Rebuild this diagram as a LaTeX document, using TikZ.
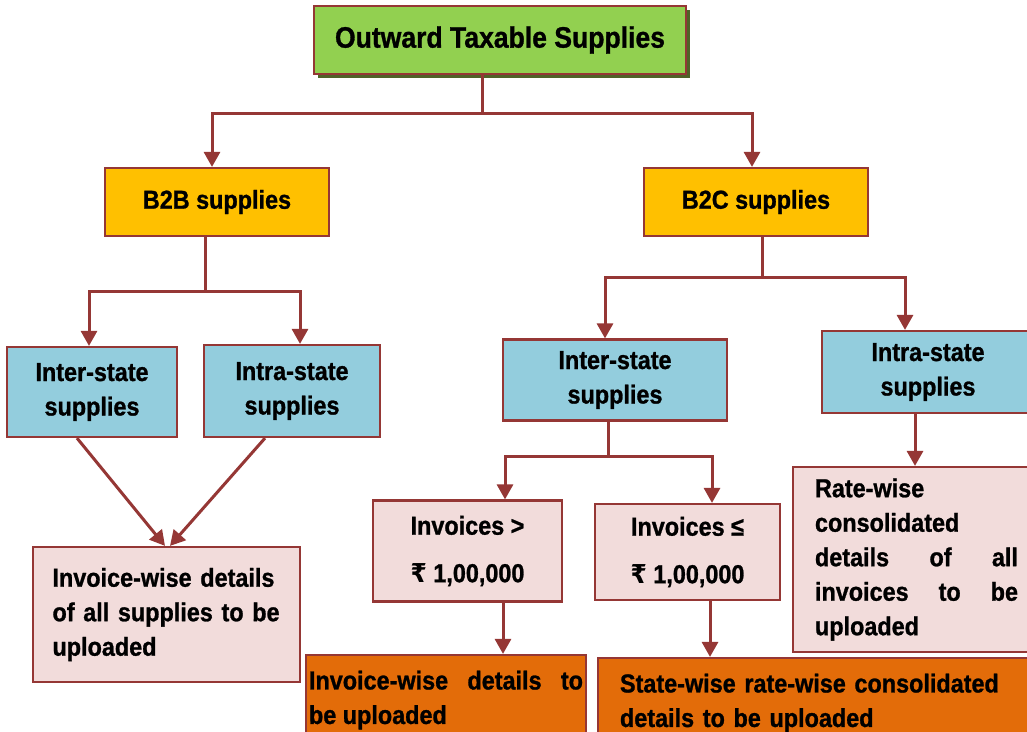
\documentclass[tikz,border=0pt]{standalone}
\usepackage{fontspec}
\setmainfont{Liberation Sans}[FakeStretch=0.9, BoldFeatures={FakeBold=1}]
\newfontfamily\rupeefont{DejaVu Sans}[FakeStretch=0.9]
\usetikzlibrary{arrows.meta,shadows,calc}
\definecolor{lc}{HTML}{953735}
\definecolor{gfill}{HTML}{92D050}
\definecolor{yfill}{HTML}{FFC000}
\definecolor{bfill}{HTML}{93CDDD}
\definecolor{pfill}{HTML}{F2DCDB}
\definecolor{ofill}{HTML}{E36C09}
\definecolor{shd}{HTML}{4F6228}
\tikzset{
  box/.style={draw=lc, line width=2.2pt, rectangle, inner sep=0pt, align=center,
    font=\bfseries\fontsize{26}{34.5}\selectfont},
  topbox/.style={box, fill=gfill, font=\bfseries\fontsize{29.5}{34}\selectfont,
    drop shadow={shadow xshift=4pt, shadow yshift=-4pt, fill=shd, opacity=1}},
  ybox/.style={box, fill=yfill, font=\bfseries\fontsize{26}{32}\selectfont},
  bbox/.style={box, fill=bfill},
  pbox/.style={box, fill=pfill},
  obox/.style={box, fill=ofill},
  arr/.style={draw=lc, line width=3pt, -{Triangle[width=16pt,length=15pt]}},
}
\begin{document}
\begin{tikzpicture}[x=1pt, y=-1pt]
\clip (0,0) rectangle (1027,731);
\fill[white] (0,0) rectangle (1027,731);
\node[topbox, minimum width=372, minimum height=68] (top) at (500,40) {\raisebox{3pt}{Outward Taxable Supplies}};
\node[ybox, minimum width=224, minimum height=68] (b2b) at (217,202) {\raisebox{2pt}{B2B supplies}};
\node[ybox, minimum width=224, minimum height=68] (b2c) at (756,202) {\raisebox{2pt}{B2C supplies}};
\node[bbox, minimum width=170, minimum height=90] (lint) at (92,392) {Inter-state\\supplies};
\node[bbox, minimum width=176, minimum height=92] (lintra) at (292,391) {Intra-state\\supplies};
\node[bbox, minimum width=224, minimum height=81] (rint) at (615,380) {Inter-state\\supplies};
\node[bbox, minimum width=212, minimum height=82] (rintra) at (928,372) {Intra-state\\supplies};
\node[pbox, minimum width=267, minimum height=135, text width=228, align=left] (inv1) at (166.5,614.5)
  {Invoice-wise details\\of all supplies to be\\uploaded};
\node[pbox, minimum width=189, minimum height=101] (ginv) at (467.5,551)
  {Invoices >\\[13pt]{\rupeefont ₹} 1,00,000};
\node[pbox, minimum width=185, minimum height=96] (ginv2) at (687.5,552)
  {Invoices ≤\\[13pt]{\rupeefont ₹} 1,00,000};
\node[obox, minimum width=280, minimum height=90, text width=274, align=justify] (o1) at (446,700)
  {Invoice-wise details to\linebreak be uploaded};
\node[obox, minimum width=434, minimum height=90, text width=390, align=left] (o2) at (815,703)
  {State-wise rate-wise consolidated\\details to be uploaded};
\node[pbox, minimum width=247, minimum height=185, text width=203, align=justify] (rw) at (916.5,559.5)
  {Rate-wise\\consolidated\linebreak details of all\linebreak invoices to be\linebreak uploaded};
% connectors
\draw[arr] ([xshift=-18pt]top.south) -- ++(0,38) -| ([xshift=-5pt]b2b.north);
\draw[arr] ([xshift=-18pt]top.south) -- ++(0,38) -| ([xshift=-4pt]b2c.north);
\draw[arr] ([xshift=-12pt]b2b.south) -- ++(0,54) -| ([xshift=-3pt]lint.north);
\draw[arr] ([xshift=-12pt]b2b.south) -- ++(0,54) -| ([xshift=8pt]lintra.north);
\draw[arr] ([xshift=6pt]b2c.south) -- ++(0,40) -| ([xshift=-10pt]rint.north);
\draw[arr] ([xshift=6pt]b2c.south) -- ++(0,40) -| ([xshift=-23pt]rintra.north);
\draw[arr] ([xshift=-15pt]lint.south) -- ([xshift=-1.5pt]inv1.north);
\draw[arr] ([xshift=-27pt]lintra.south) -- ([xshift=3.5pt]inv1.north);
\draw[arr] ([xshift=-7pt]rint.south) -- ++(0,35) -| ([xshift=37.5pt]ginv.north);
\draw[arr] ([xshift=-7pt]rint.south) -- ++(0,35) -| ([xshift=24.5pt]ginv2.north);
\draw[arr] ([xshift=35.5pt]ginv.south) -- ([xshift=35.5pt]ginv.south |- o1.north);
\draw[arr] ([xshift=22.5pt]ginv2.south) -- ([xshift=22.5pt]ginv2.south |- o2.north);
\draw[arr] ([xshift=-13pt]rintra.south) -- ([xshift=-13pt]rintra.south |- rw.north);
\end{tikzpicture}
\end{document}
